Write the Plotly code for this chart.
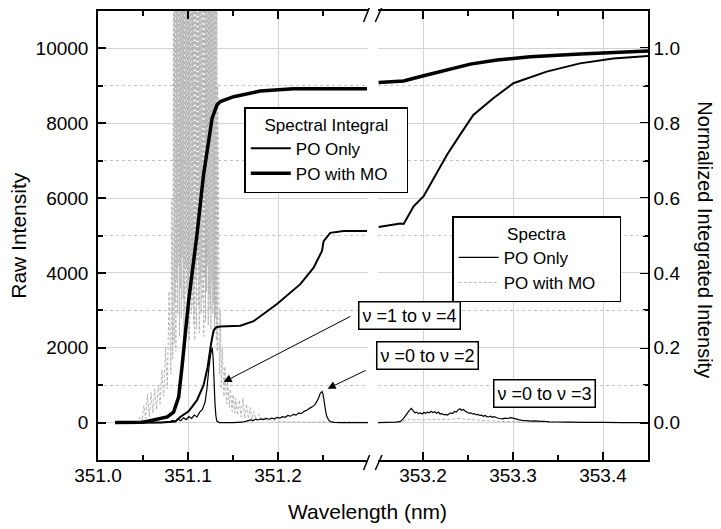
import plotly.graph_objects as go

# ---------------- data ----------------
# Spectra (raw intensity, left axis) - left segment of broken wavelength axis
spec_po_left_x = [351.020, 351.040, 351.060, 351.075, 351.080, 351.083, 351.086, 351.089, 351.092, 351.095,
                  351.098, 351.101, 351.104, 351.107, 351.110, 351.113, 351.116, 351.119, 351.121, 351.123,
                  351.125, 351.127, 351.128, 351.129, 351.130, 351.131, 351.132, 351.135, 351.150, 351.160,
                  351.165, 351.170, 351.172, 351.175, 351.178, 351.181, 351.184, 351.187, 351.190, 351.193,
                  351.196, 351.199, 351.202, 351.205, 351.208, 351.211, 351.214, 351.217, 351.220, 351.223,
                  351.226, 351.229, 351.232, 351.235, 351.238, 351.241, 351.243, 351.245, 351.247, 351.249,
                  351.250, 351.251, 351.252, 351.253, 351.254, 351.256, 351.258, 351.262, 351.270, 351.300]
spec_po_left_y = [0, 0, 0, 5, 20, 60, 30, 90, 50, 130,
                  80, 160, 110, 200, 150, 280, 350, 550, 900, 1400,
                  1800, 2000, 1700, 1100, 500, 180, 40, 0, 0, 10,
                  40, 70, 50, 90, 70, 100, 80, 110, 90, 120,
                  100, 140, 120, 160, 140, 190, 170, 220, 200, 260,
                  240, 300, 330, 380, 420, 480, 560, 650, 780, 830,
                  760, 620, 450, 300, 180, 80, 30, 5, 0, 0]

spec_po_right_x = [353.150, 353.160, 353.170, 353.175, 353.178, 353.181, 353.184, 353.187, 353.189, 353.191,
                   353.193, 353.195, 353.197, 353.199, 353.201, 353.203, 353.205, 353.207, 353.209, 353.211,
                   353.213, 353.215, 353.217, 353.219, 353.221, 353.223, 353.225, 353.227, 353.229, 353.231,
                   353.233, 353.235, 353.237, 353.239, 353.241, 353.243, 353.245, 353.247, 353.249, 353.251,
                   353.253, 353.255, 353.257, 353.259, 353.261, 353.263, 353.265, 353.267, 353.269, 353.271,
                   353.273, 353.275, 353.277, 353.279, 353.282, 353.285, 353.288, 353.291, 353.294, 353.297,
                   353.300, 353.303, 353.306, 353.310, 353.315, 353.320, 353.325, 353.330, 353.335, 353.340,
                   353.350, 353.360, 353.380, 353.400, 353.420, 353.450]
spec_po_right_y = [0, 5, 10, 30, 100, 200, 300, 380, 320, 260,
                   280, 240, 260, 230, 270, 250, 280, 260, 300, 270,
                   290, 250, 280, 230, 240, 210, 220, 200, 230, 260,
                   240, 300, 280, 340, 370, 330, 350, 300, 280, 250,
                   260, 230, 240, 210, 220, 190, 200, 170, 190, 160,
                   150, 170, 140, 160, 130, 110, 100, 120, 110, 130,
                   120, 100, 80, 60, 50, 40, 45, 30, 35, 20,
                   15, 10, 5, 5, 0, 0]

spec_mo_left_x = [351.030, 351.040, 351.044, 351.047, 351.049, 351.051, 351.053, 351.055, 351.057, 351.059,
                  351.061, 351.063, 351.065, 351.067, 351.069, 351.071, 351.073, 351.075, 351.077, 351.079,
                  351.081, 351.082, 351.083,
                  351.0840, 351.0845, 351.0850, 351.0855, 351.0860, 351.0865, 351.0870, 351.0875, 351.0880, 351.0885,
                  351.0890, 351.0895, 351.0900, 351.0905, 351.0910, 351.0915, 351.0920, 351.0925, 351.0930, 351.0935,
                  351.0940, 351.0945, 351.0950, 351.0955, 351.0960, 351.0965, 351.0970, 351.0975, 351.0980, 351.0985,
                  351.0990, 351.0995, 351.1000, 351.1005, 351.1010, 351.1015, 351.1020, 351.1025, 351.1030, 351.1035,
                  351.1040, 351.1045, 351.1050, 351.1055, 351.1060, 351.1065, 351.1070, 351.1075, 351.1080, 351.1085,
                  351.1090, 351.1095, 351.1100, 351.1105, 351.1110, 351.1115, 351.1120, 351.1125, 351.1130, 351.1135,
                  351.1140, 351.1145, 351.1150, 351.1155, 351.1160, 351.1165, 351.1170, 351.1175, 351.1180, 351.1185,
                  351.1190, 351.1195, 351.1200, 351.1205, 351.1210, 351.1215, 351.1220, 351.1225, 351.1230, 351.1235,
                  351.1240, 351.1245, 351.1250, 351.1255, 351.1260, 351.1265, 351.1270, 351.1275, 351.1280, 351.1285,
                  351.1290, 351.1295, 351.1300, 351.1305, 351.1310, 351.1315, 351.1320, 351.1325, 351.1330,
                  351.134, 351.135, 351.136, 351.137, 351.138, 351.140, 351.141, 351.143, 351.144, 351.146,
                  351.147, 351.149, 351.150, 351.152, 351.153, 351.155, 351.157, 351.159, 351.161, 351.163,
                  351.165, 351.167, 351.169, 351.171, 351.173, 351.176, 351.179, 351.182, 351.185, 351.188,
                  351.191, 351.194, 351.197, 351.200, 351.205, 351.210, 351.220, 351.235, 351.250, 351.265,
                  351.280, 351.300]
spec_mo_left_y = [0, 10, 30, 150, 40, 450, 100, 750, 150, 800,
                  250, 900, 350, 1000, 500, 1400, 700, 2000, 900, 3500,
                  1300, 6000, 1700,
                  12500, 2100, 15000, 3200, 16000, 1900, 15500, 3800, 16000, 2900,
                  15000, 4200, 16500, 2300, 15800, 3600, 16200, 2800, 15400, 4400,
                  16000, 3300, 15600, 2100, 16300, 3000, 15200, 4100, 16100, 3500,
                  15700, 2700, 16400, 3800, 15300, 2200, 16000, 4000, 15500, 2900,
                  16200, 3600, 15100, 3100, 14800, 2600, 15500, 2200, 16500, 3800,
                  15000, 2500, 16000, 4300, 15400, 3100, 16200, 2400, 15800, 3700,
                  16100, 2900, 15300, 4000, 16400, 3300, 15600, 2300, 16000, 3900,
                  15200, 2700, 16300, 3500, 15700, 4200, 16000, 2600, 15400, 3400,
                  16100, 3000, 15600, 2500, 16200, 3800, 15300, 2900, 15900, 3200,
                  15000, 2400, 14500, 2800, 13500, 2200, 12800, 1900, 9000,
                  5200, 1300, 3000, 900, 2000, 700, 1500, 500, 1100, 400,
                  900, 300, 750, 250, 650, 200, 600, 150, 650, 120,
                  500, 100, 400, 80, 300, 60, 220, 40, 160, 30,
                  110, 20, 70, 15, 40, 10, 20, 10, 20, 10,
                  15, 10]

spec_mo_right_x = [353.150, 353.165, 353.175, 353.180, 353.185, 353.190, 353.195, 353.200, 353.205, 353.210,
                   353.215, 353.220, 353.225, 353.230, 353.235, 353.240, 353.245, 353.250, 353.255, 353.260,
                   353.265, 353.270, 353.280, 353.290, 353.300, 353.320, 353.350, 353.400, 353.450]
spec_mo_right_y = [0, 5, 15, 50, 90, 70, 80, 65, 85, 75,
                   95, 80, 90, 85, 100, 110, 95, 85, 75, 70,
                   60, 50, 40, 30, 25, 15, 10, 5, 0]

# Spectral integrals (normalized, right axis)
int_po_left_x = [351.019, 351.070, 351.0859, 351.0914, 351.1007, 351.1100, 351.1173, 351.1218, 351.1256, 351.1284,
                 351.1314, 351.1359, 351.1581, 351.1729, 351.1989, 351.2248, 351.2396, 351.2489, 351.2507, 351.2581,
                 351.2729, 351.2989]
int_po_left_y = [0.0, 0.0, 0.003, 0.015, 0.030, 0.060, 0.100, 0.148, 0.210, 0.246,
                 0.255, 0.257, 0.259, 0.271, 0.317, 0.370, 0.414, 0.459, 0.485, 0.507,
                 0.512, 0.512]
int_po_right_x = [353.1507, 353.1748, 353.1785, 353.1896, 353.2007, 353.2118, 353.2267, 353.2411, 353.2559, 353.2781,
                  353.3004, 353.3374, 353.3744, 353.4114, 353.4500]
int_po_right_y = [0.523, 0.532, 0.531, 0.578, 0.605, 0.654, 0.716, 0.769, 0.822, 0.867,
                  0.907, 0.938, 0.960, 0.973, 0.980]

int_mo_left_x = [351.019, 351.040, 351.049, 351.054, 351.065, 351.077, 351.084, 351.0896, 351.0933, 351.097,
                 351.1007, 351.110, 351.1173, 351.1229, 351.1267, 351.1322, 351.1359, 351.1507, 351.1803, 351.2173,
                 351.2989]
int_mo_left_y = [0.0, 0.0, 0.001, 0.003, 0.008, 0.015, 0.028, 0.068, 0.148, 0.237,
                 0.326, 0.503, 0.663, 0.751, 0.813, 0.849, 0.858, 0.871, 0.886, 0.892,
                 0.892]
int_mo_right_x = [353.1507, 353.1784, 353.2007, 353.2267, 353.2526, 353.2822, 353.3192, 353.3748, 353.4500]
int_mo_right_y = [0.909, 0.913, 0.927, 0.942, 0.958, 0.969, 0.978, 0.985, 0.993]

x_left_ticks = [351.0, 351.1, 351.2]
x_right_ticks = [353.2, 353.3, 353.4]
y_left_ticks = [0, 2000, 4000, 6000, 8000, 10000]
y_left_labels = ["0", "2000", "4000", "6000", "8000", "10000"]
y_right_ticks = [0.0, 0.2, 0.4, 0.6, 0.8, 1.0]

# ---------------- figure ----------------
FONT = "Arial, Liberation Sans, sans-serif"
GRAY = "#b4b4b4"
PAD1 = "\u00a0\u00a0\u00a0"        # right padding inside the integral legend box
PAD2 = "\u00a0\u00a0\u00a0\u00a0"  # right padding inside the spectra legend box
fig = go.Figure()

# gray spectra first (underneath)
fig.add_trace(go.Scatter(x=spec_mo_left_x, y=spec_mo_left_y, xaxis="x", yaxis="y", mode="lines",
                         line=dict(color=GRAY, width=1, dash="3px,2px", simplify=False), name="PO with MO" + PAD2,
                         legend="legend2", showlegend=False, legendrank=2))
fig.add_trace(go.Scatter(x=spec_mo_right_x, y=spec_mo_right_y, xaxis="x2", yaxis="y", mode="lines",
                         line=dict(color=GRAY, width=1, dash="3px,2px", simplify=False), name="PO with MO" + PAD2,
                         legend="legend2", showlegend=True, legendrank=2))
fig.add_trace(go.Scatter(x=spec_po_left_x, y=spec_po_left_y, xaxis="x", yaxis="y", mode="lines",
                         line=dict(color="black", width=1.2, simplify=False), name="PO Only",
                         legend="legend2", showlegend=True, legendrank=1))
fig.add_trace(go.Scatter(x=spec_po_right_x, y=spec_po_right_y, xaxis="x2", yaxis="y", mode="lines",
                         line=dict(color="black", width=1.2, simplify=False), name="PO Only",
                         legend="legend2", showlegend=False, legendrank=1))

# integrals
fig.add_trace(go.Scatter(x=int_po_left_x, y=int_po_left_y, xaxis="x", yaxis="y2", mode="lines",
                         line=dict(color="black", width=2), name="PO Only",
                         legend="legend", showlegend=True, legendrank=1))
fig.add_trace(go.Scatter(x=int_po_right_x, y=int_po_right_y, xaxis="x2", yaxis="y2", mode="lines",
                         line=dict(color="black", width=2), name="PO Only",
                         legend="legend", showlegend=False, legendrank=1))
fig.add_trace(go.Scatter(x=int_mo_left_x, y=int_mo_left_y, xaxis="x", yaxis="y2", mode="lines",
                         line=dict(color="black", width=3.5), name="PO with MO" + PAD1,
                         legend="legend", showlegend=True, legendrank=2))
fig.add_trace(go.Scatter(x=int_mo_right_x, y=int_mo_right_y, xaxis="x2", yaxis="y2", mode="lines",
                         line=dict(color="black", width=3.5), name="PO with MO" + PAD1,
                         legend="legend", showlegend=False, legendrank=2))

tickfont = dict(family=FONT, size=19, color="black")
common_x = dict(showline=True, linecolor="black", linewidth=1.5, mirror="ticks",
                ticks="inside", ticklen=8, tickwidth=1.5, tickcolor="black",
                showgrid=True, gridcolor="#d4d4d4", gridwidth=1, zeroline=False,
                tickfont=tickfont, tickformat=".1f", ticklabelstandoff=-3)

# The page body has an 8px default margin, so the figure is sized 8px smaller
fig.update_layout(
    width=713, height=521,
    margin=dict(l=90, r=73, t=1, b=69),
    paper_bgcolor="white", plot_bgcolor="white",
    font=dict(family=FONT, size=17, color="black"),
    xaxis=dict(domain=[0, 0.4909], range=[351.0, 351.3], anchor="y",
               tickvals=x_left_ticks,
               minor=dict(tickvals=[351.05, 351.15, 351.25], ticks="inside", ticklen=5,
                          tickwidth=1.5, tickcolor="black", showgrid=False),
               **common_x),
    xaxis2=dict(domain=[0.5091, 1], range=[353.15, 353.45], anchor="y",
                tickvals=x_right_ticks,
                minor=dict(tickvals=[353.25, 353.35], ticks="inside", ticklen=5,
                           tickwidth=1.5, tickcolor="black", showgrid=False),
                **common_x),
    yaxis=dict(range=[-1000, 11000], anchor="x", side="left",
               tickvals=y_left_ticks, ticktext=y_left_labels,
               showline=True, linecolor="black", linewidth=1.5,
               ticks="inside", ticklen=8, tickwidth=1.5, tickcolor="black",
               showgrid=True, gridcolor="#d4d4d4", gridwidth=1, zeroline=False,
               tickfont=tickfont, ticklabelstandoff=4,
               minor=dict(dtick=1000, ticks="inside", ticklen=5, tickwidth=1.5, tickcolor="black",
                          showgrid=True, gridcolor="#c4c4c4", griddash="dot", gridwidth=1)),
    yaxis2=dict(range=[-0.1, 1.1], anchor="x2", overlaying="y", side="right",
                tickvals=y_right_ticks, tickformat=".1f",
                showline=True, linecolor="black", linewidth=1.5,
                ticks="inside", ticklen=8, tickwidth=1.5, tickcolor="black",
                showgrid=False, zeroline=False, tickfont=tickfont, ticklabelstandoff=0,
                minor=dict(tickvals=[0.1, 0.3, 0.5, 0.7, 0.9], ticks="inside", ticklen=5,
                           tickwidth=1.5, tickcolor="black", showgrid=False)),
    legend=dict(x=0.266, y=0.786, xanchor="left", yanchor="top",
                bgcolor="#ffffff", bordercolor="#000000", borderwidth=1.5,
                font=dict(family=FONT, size=17, color="black"),
                title=dict(text="Spectral Integral", side="top center",
                           font=dict(family=FONT, size=17, color="black")),
                traceorder="normal", tracegroupgap=0, itemwidth=40),
    legend2=dict(x=0.644, y=0.543, xanchor="left", yanchor="top",
                 bgcolor="#ffffff", bordercolor="#000000", borderwidth=1.5,
                 font=dict(family=FONT, size=17, color="black"),
                 title=dict(text="Spectra", side="top center",
                            font=dict(family=FONT, size=17, color="black")),
                 traceorder="normal", tracegroupgap=0, itemwidth=40),
)

# axis titles
fig.add_annotation(text="Wavelength (nm)", xref="paper", yref="paper", x=0.49, y=-0.115,
                   xanchor="center", yanchor="middle", showarrow=False,
                   font=dict(family=FONT, size=21, color="black"))
fig.add_annotation(text="Raw Intensity", xref="paper", yref="paper", x=-0.145, y=0.5,
                   xanchor="center", yanchor="middle", textangle=-90, showarrow=False,
                   font=dict(family=FONT, size=21, color="black"))
fig.add_annotation(text="Normalized Integrated Intensity", xref="paper", yref="paper", x=1.103, y=0.49,
                   xanchor="center", yanchor="middle", textangle=90, showarrow=False,
                   font=dict(family=FONT, size=20, color="black"))

# labelled boxes
box_font = dict(family=FONT, size=18, color="black")
for txt, px, py in [("ν =1 to ν =4", 0.566, 0.3215),
                    ("ν =0 to ν =2", 0.5987, 0.2328),
                    ("ν =0 to ν =3", 0.8115, 0.1475)]:
    fig.add_annotation(text=txt, xref="paper", yref="paper", x=px, y=py,
                       xanchor="center", yanchor="middle", showarrow=False,
                       bgcolor="#ffffff", bordercolor="#000000", borderwidth=1.5, borderpad=3,
                       font=box_font)

# arrows
fig.add_annotation(text="", x=351.1396, y=1083, xref="x", yref="y",
                   ax=351.282, ay=2858, axref="x", ayref="y",
                   showarrow=True, arrowhead=2, arrowsize=1.6, arrowwidth=1, arrowcolor="black")
fig.add_annotation(text="", x=351.2551, y=907, xref="x", yref="y",
                   ax=351.299, ay=1413, axref="x", ayref="y",
                   showarrow=True, arrowhead=2, arrowsize=1.6, arrowwidth=1, arrowcolor="black")

# axis break marks
for x0, x1 in [(0.4829, 0.4938), (0.5042, 0.5164)]:
    fig.add_shape(type="line", xref="paper", yref="paper", x0=x0, y0=-0.0222, x1=x1, y1=0.0111,
                  line=dict(color="black", width=1.5))
    fig.add_shape(type="line", xref="paper", yref="paper", x0=x0, y0=0.9756, x1=x1, y1=1.0089,
                  line=dict(color="black", width=1.5))

fig.write_html("out.html")
